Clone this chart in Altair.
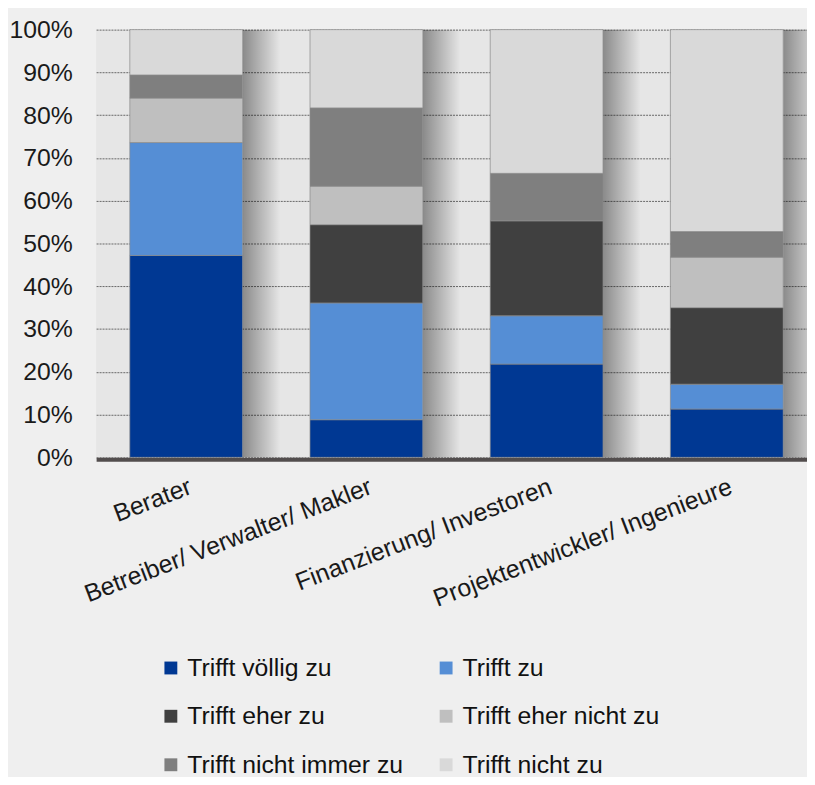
import altair as alt
import pandas as pd

categories = ["Berater", "Betreiber/ Verwalter/ Makler", "Finanzierung/ Investoren", "Projektentwickler/ Ingenieure"]
series = ["Trifft völlig zu", "Trifft zu", "Trifft eher zu", "Trifft eher nicht zu", "Trifft nicht immer zu", "Trifft nicht zu"]
colors = ["#003893", "#558ed5", "#404040", "#bfbfbf", "#7f7f7f", "#d9d9d9"]

v_voellig = [47.2, 8.8, 21.8, 11.3]
v_zu = [26.4, 27.3, 11.3, 5.8]
v_eher = [0.0, 18.3, 22.2, 17.9]
v_eher_nicht = [10.4, 9.0, 0.0, 11.8]
v_nicht_immer = [5.4, 18.3, 11.1, 6.0]
v_nicht = [10.6, 18.3, 33.6, 47.2]

all_vals = [v_voellig, v_zu, v_eher, v_eher_nicht, v_nicht_immer, v_nicht]
rows = []
for si, (s, vals) in enumerate(zip(series, all_vals)):
    for c, v in zip(categories, vals):
        rows.append({"cat": c, "series": s, "idx": si, "value": v})
df = pd.DataFrame(rows)

FONT = "Liberation Sans"

x_enc = alt.X(
    "cat:N",
    sort=categories,
    scale=alt.Scale(range=[0, 728], paddingInner=0.374, paddingOuter=0.187),
    axis=alt.Axis(
        title=None, ticks=False, domain=True, domainColor="#524d4d", domainWidth=4,
        offset=2, labelAngle=-21, labelAlign="right", labelBaseline="top",
        labelPadding=15, labelFontSize=25, labelFont=FONT, labelColor="#1a1a1a",
        labelLimit=500,
    ),
)

y_scale = alt.Scale(domain=[0, 100], nice=False)
y_axis = alt.Axis(
    title=None, values=list(range(0, 101, 10)), labelExpr="datum.value + '%'",
    ticks=False, domain=False, labelPadding=24, labelFontSize=25, labelFont=FONT,
    labelColor="#1a1a1a", grid=True, gridColor="#666666", gridDash=[2, 1], gridWidth=1,
)

shadow = alt.Chart(df).mark_bar(
    width=38, xOffset=76,
    color=alt.LinearGradient(
        gradient="linear", x1=0, x2=1, y1=0, y2=0,
        stops=[alt.GradientStop(offset=0, color="rgba(0,0,0,0.40)"),
               alt.GradientStop(offset=1, color="rgba(0,0,0,0)")],
    ),
).encode(
    x=x_enc,
    y=alt.Y("sum(value):Q", scale=y_scale, axis=y_axis),
)

bars = alt.Chart(df).transform_filter(alt.datum.value > 0).mark_bar(
    stroke="#8a8a8a", strokeWidth=1, strokeOpacity=0.7,
).encode(
    x=x_enc,
    y=alt.Y("value:Q", stack="zero", scale=y_scale, axis=y_axis),
    color=alt.Color(
        "series:N",
        scale=alt.Scale(domain=series, range=colors),
        legend=alt.Legend(
            title=None, orient="none", legendX=63, legendY=632, columns=2,
            direction="horizontal",
            symbolType="square", symbolSize=169, symbolStrokeWidth=0,
            labelFontSize=25, labelFont=FONT, labelColor="#111111", labelOffset=4,
            columnPadding=30, rowPadding=23, padding=0, labelLimit=400,
        ),
    ),
    order=alt.Order("idx:Q", sort="ascending"),
)

chart = alt.layer(shadow, bars).properties(
    width=718, height=432,
    autosize=alt.AutoSizeParams(type="none"),
    padding={"left": 89, "top": 18, "right": 0, "bottom": 319},
    background="#efefef",
).configure_view(fill="#e6e6e6", stroke=None)

chart.save("out.html", embed_options={"renderer": "svg", "actions": False})
